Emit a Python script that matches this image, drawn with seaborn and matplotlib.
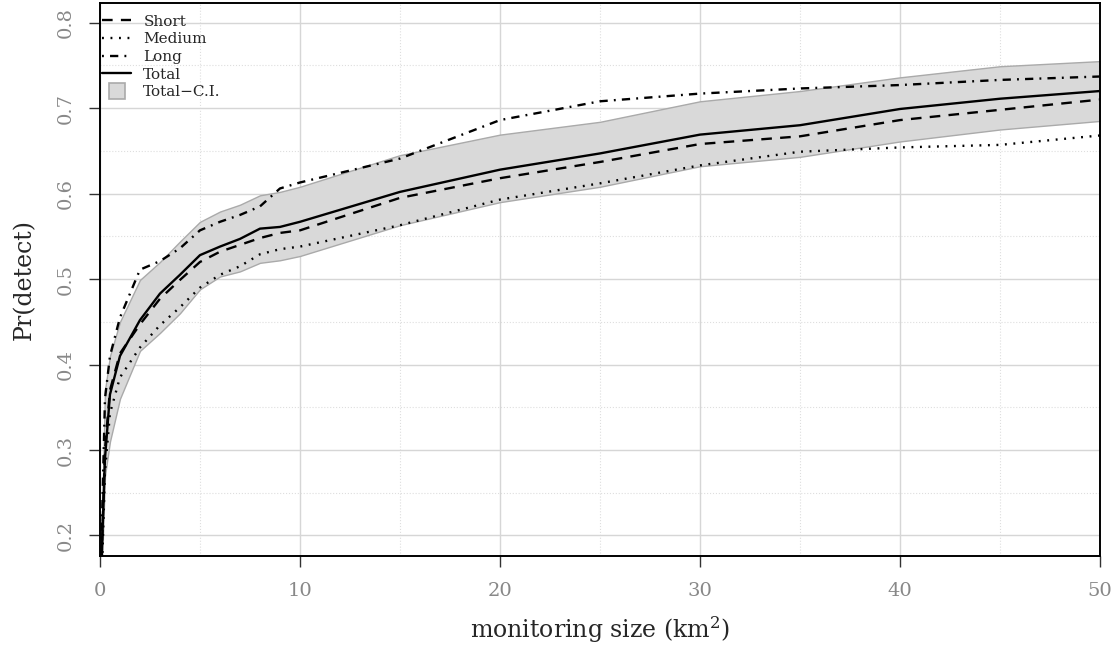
import numpy as np
import pandas as pd
import matplotlib
matplotlib.use("Agg")
import matplotlib.pyplot as plt
import seaborn as sns
from matplotlib.lines import Line2D
from matplotlib.ticker import MultipleLocator

# monitoring size (km^2)
size_km2 = [0.05, 0.25, 0.5, 1, 2, 3, 4, 5, 6, 7, 8, 9, 10, 15, 20, 25, 30, 35, 40, 45, 50]

# Pr(detect) for each group
short = [0.15, 0.300, 0.370, 0.413, 0.447, 0.477, 0.499, 0.520, 0.532, 0.540, 0.548, 0.554, 0.557,
         0.595, 0.618, 0.637, 0.658, 0.667, 0.686, 0.698, 0.710]
medium = [0.12, 0.275, 0.343, 0.385, 0.420, 0.446, 0.467, 0.490, 0.505, 0.515, 0.529, 0.535, 0.538,
          0.563, 0.593, 0.612, 0.633, 0.649, 0.654, 0.657, 0.668]
long_ = [0.17, 0.360, 0.410, 0.455, 0.511, 0.521, 0.536, 0.557, 0.567, 0.575, 0.585, 0.606, 0.613,
         0.641, 0.686, 0.708, 0.717, 0.723, 0.727, 0.733, 0.737]
total = [0.15, 0.290, 0.365, 0.410, 0.452, 0.483, 0.505, 0.528, 0.538, 0.547, 0.559, 0.561, 0.567,
         0.602, 0.628, 0.647, 0.669, 0.680, 0.699, 0.711, 0.720]
ci_low = [0.13, 0.270, 0.310, 0.360, 0.416, 0.437, 0.460, 0.488, 0.503, 0.509, 0.519, 0.522, 0.527,
          0.563, 0.590, 0.608, 0.632, 0.643, 0.661, 0.675, 0.685]
ci_high = [0.17, 0.370, 0.410, 0.450, 0.499, 0.520, 0.544, 0.567, 0.579, 0.587, 0.598, 0.602, 0.608,
           0.645, 0.669, 0.684, 0.708, 0.720, 0.736, 0.749, 0.755]

groups = ["Short", "Medium", "Long", "Total"]
df = pd.DataFrame({
    "size": size_km2 * 4,
    "prob": short + medium + long_ + total,
    "group": [g for g in groups for _ in size_km2],
})

sns.set_style("white")
plt.rcParams["font.family"] = ["DejaVu Serif"]
plt.rcParams["mathtext.fontset"] = "dejavuserif"

LW = 1.7
dash_map = {
    "Short": (4.5, 3.5),
    "Medium": (0.8, 2.8),
    "Long": (0.8, 2.6, 3.5, 2.6),
    "Total": "",
}

fig = plt.figure(figsize=(11.17, 6.5), dpi=100)
ax = fig.add_axes([0.0895, 0.1446, 0.8953, 0.8508])

# confidence band for the total
ax.fill_between(size_km2, ci_low, ci_high, facecolor="#d9d9d9", edgecolor="#aaaaaa",
                linewidth=1.0, zorder=1)

sns.lineplot(data=df, x="size", y="prob", style="group", dashes=dash_map,
             color="black", linewidth=LW, legend=False, ax=ax, zorder=3)

# grid: solid major, dotted minor
ax.xaxis.set_major_locator(MultipleLocator(10))
ax.xaxis.set_minor_locator(MultipleLocator(5))
ax.yaxis.set_major_locator(MultipleLocator(0.1))
ax.yaxis.set_minor_locator(MultipleLocator(0.05))
ax.grid(which="major", color="#d6d6d6", linewidth=1.0, linestyle="-", zorder=0)
ax.grid(which="minor", color="#dedede", linewidth=0.8, linestyle=":", zorder=0)
ax.set_axisbelow(True)

for sp in ax.spines.values():
    sp.set_color("black")
    sp.set_linewidth(1.4)

ax.tick_params(which="major", direction="out", length=8, width=1.0, color="#333333",
               labelcolor="#888888", labelsize=14, left=True, bottom=True)
ax.tick_params(axis="x", pad=11)
ax.tick_params(axis="y", pad=10)
ax.tick_params(which="minor", length=0)
ax.set_xticks([0, 10, 20, 30, 40, 50])
ax.set_xticklabels(["0", "10", "20", "30", "40", "50"])
ax.set_yticks([0.2, 0.3, 0.4, 0.5, 0.6, 0.7, 0.8])
ax.set_yticklabels(["0.2", "0.3", "0.4", "0.5", "0.6", "0.7", "0.8"], rotation=90, va="center")
ax.set_xlim(0, 50)
ax.set_ylim(0.176, 0.823)

ax.set_xlabel("monitoring size (km$^2$)", fontsize=17, labelpad=10)
ax.set_ylabel("Pr(detect)", fontsize=17, labelpad=15)

handles = [
    Line2D([], [], color="black", lw=LW, dashes=dash_map["Short"]),
    Line2D([], [], color="black", lw=LW, dashes=dash_map["Medium"]),
    Line2D([], [], color="black", lw=LW, dashes=dash_map["Long"]),
    Line2D([], [], color="black", lw=LW),
    Line2D([], [], linestyle="None", marker="s", markersize=11.5,
           markerfacecolor="#d9d9d9", markeredgecolor="#aaaaaa", markeredgewidth=1.2),
]
labels = ["Short", "Medium", "Long", "Total", "Total\u2212C.I."]
ax.legend(handles, labels, loc="upper left", frameon=False, fontsize=11,
          handlelength=1.9, handletextpad=0.8, labelspacing=0.24,
          borderpad=0.4, borderaxespad=0.0, bbox_to_anchor=(-0.004, 0.99))

fig.savefig("out.png", dpi=100)
